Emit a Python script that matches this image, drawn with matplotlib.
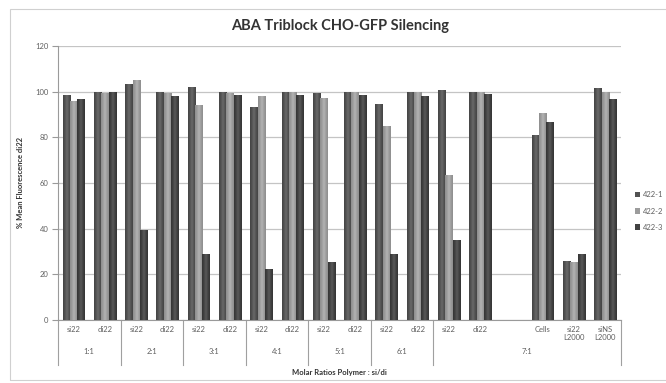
import numpy as np
import matplotlib
matplotlib.use("Agg")
import matplotlib.pyplot as plt
from matplotlib.patches import Rectangle
from matplotlib.colors import LinearSegmentedColormap

# Data
categories = ["si22", "di22", "si22", "di22", "si22", "di22", "si22", "di22",
              "si22", "di22", "si22", "di22", "si22", "di22", "",
              "Cells", "si22\nL2000", "siNS\nL2000"]
groups = ["1:1", "2:1", "3:1", "4:1", "5:1", "6:1", "7:1"]
group_sizes = [2, 2, 2, 2, 2, 2, 6]
series_names = ["422-1", "422-2", "422-3"]
s1 = [98.4, 100, 103.2, 100, 102.0, 100, 93.3, 100, 99.6, 100, 94.6, 100, 100.7, 100, np.nan, 81.0, 26.0, 101.7]
s2 = [95.7, 99.6, 105.2, 99.6, 94.3, 99.6, 98.1, 99.8, 97.2, 99.7, 84.8, 100, 63.7, 99.8, np.nan, 90.6, 25.2, 100.0]
s3 = [96.9, 100, 39.2, 98.0, 29.0, 98.7, 22.2, 98.7, 25.5, 98.7, 28.7, 98.0, 35.0, 99.0, np.nan, 86.8, 28.7, 97.0]
series = [s1, s2, s3]
colors = ["#525252", "#9c9c9c", "#424242"]

plt.rcParams["font.family"] = ["Lato", "DejaVu Sans"]

W, H = 666, 383
fig = plt.figure(figsize=(W / 100, H / 100), dpi=100)
fig.patch.set_facecolor("white")

# chart-area frame
fig.patches.append(Rectangle((10 / W, 1 - 380 / H), 660 / W, 371 / H,
                             transform=fig.transFigure, fill=False,
                             edgecolor="#d0d0d0", lw=0.8))

ax = fig.add_axes([58 / W, 1 - 320 / H, 563 / W, 274 / H])
x = np.arange(len(categories))
bw = 0.235

def shade(base):
    c = np.array(matplotlib.colors.to_rgb(base))
    light = np.clip(c + 0.10, 0, 1)
    dark = np.clip(c - 0.06, 0, 1)
    return LinearSegmentedColormap.from_list("g", [dark, c, light, c, dark])

for i, (vals, col) in enumerate(zip(series, colors)):
    bars = ax.bar(x + (i - 1) * bw, vals, width=bw, color=col,
                  edgecolor="none", label=series_names[i], zorder=3)
    cmap = shade(col)
    grad = np.linspace(0, 1, 64).reshape(1, -1)
    for b in bars:
        h = b.get_height()
        if not np.isfinite(h):
            continue
        x0 = b.get_x()
        im = ax.imshow(grad, cmap=cmap, aspect="auto",
                       extent=(x0, x0 + b.get_width(), 0, h),
                       zorder=3.5, interpolation="bicubic")
        im.set_clip_path(b)

ax.set_xlim(-0.5, len(categories) - 0.5)
ax.set_ylim(0, 120)
ax.set_yticks(np.arange(0, 121, 20))
ax.yaxis.grid(True, color="#c4c4c4", lw=0.9, zorder=0)
ax.set_axisbelow(True)
for s in ["top", "right"]:
    ax.spines[s].set_visible(False)
ax.spines["left"].set_color("#9a9a9a")
ax.spines["bottom"].set_color("#9a9a9a")
ax.tick_params(axis="y", labelsize=5.5, labelcolor="#606060", color="#9a9a9a",
               length=4, width=0.8, pad=3)

tick_pos = [p for p, c in zip(x, categories) if c]
tick_lab = [c for c in categories if c]
ax.set_xticks(tick_pos)
ax.set_xticklabels(tick_lab, fontsize=5.5, color="#606060", linespacing=1.3,
                   va="top")
ax.tick_params(axis="x", length=0, pad=4)

# group separators and labels below the axis
tr = ax.get_xaxis_transform()
edges = np.concatenate([[0], np.cumsum(group_sizes)]) - 0.5
for e in edges:
    ax.plot([e, e], [0, -0.165], transform=tr, color="#a0a0a0", lw=0.8,
            clip_on=False, zorder=1)
for g, a, b in zip(groups, edges[:-1], edges[1:]):
    ax.text((a + b) / 2, -0.115, g, transform=tr, ha="center", va="center",
            fontsize=5.5, color="#606060")

ax.text(0.5, -0.19, "Molar Ratios Polymer : si/di", transform=ax.transAxes,
        ha="center", va="center", fontsize=5.5, fontweight="bold", color="#333333")
ax.set_ylabel("% Mean Fluorescence di22", fontsize=5.5, fontweight="bold",
              color="#333333", labelpad=8)

fig.text(340 / W, 1 - 26 / H, "ABA Triblock CHO-GFP Silencing",
         ha="center", va="center", fontsize=10.5, fontweight="bold",
         color="#333333")

handles, labels = ax.get_legend_handles_labels()
leg = fig.legend(handles, labels, loc="center left",
                 bbox_to_anchor=(628 / W, 1 - 211 / H), frameon=False,
                 fontsize=5.5, handlelength=0.7, handleheight=0.7,
                 handletextpad=0.4, labelspacing=1.2, labelcolor="#606060")

fig.savefig("out.png", dpi=100)
